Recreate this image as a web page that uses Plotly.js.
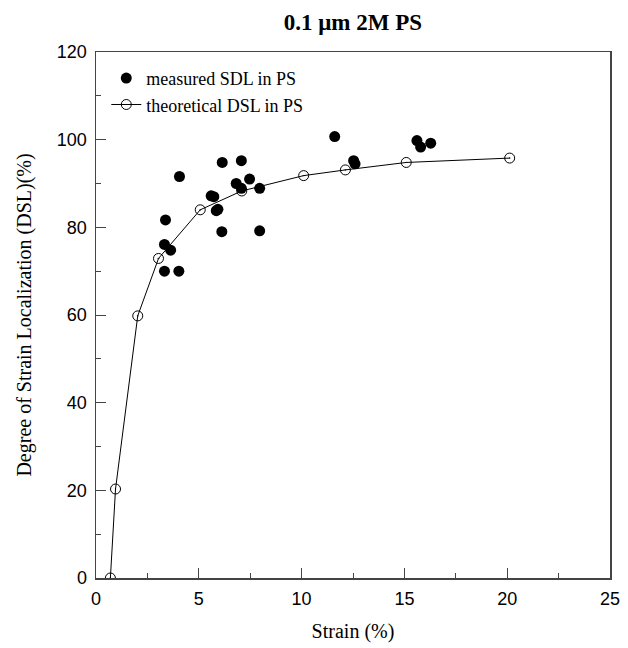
<!DOCTYPE html>
<html>
<head>
<meta charset="utf-8">
<script src="https://cdn.plot.ly/plotly-3.0.1.min.js"></script>
<style>html,body{margin:0;padding:0;background:#fff;}#chart{width:628px;height:648px;}</style>
</head>
<body>
<div id="chart"></div>
<script>
const measuredStrain = [3.33, 4.03, 3.33, 3.63, 3.38, 4.06, 5.6, 5.73, 5.85, 5.93, 6.12, 6.14, 7.07, 6.82, 7.07, 7.47, 7.96, 7.96, 11.61, 12.53, 12.6, 15.61, 15.79, 16.28];
const measuredSDL    = [70.0, 70.0, 76.1, 74.8, 81.7, 91.6, 87.2, 87.0, 83.8, 84.1, 79.0, 94.8, 95.2, 90.0, 88.9, 91.0, 88.9, 79.2, 100.7, 95.2, 94.5, 99.8, 98.3, 99.2];
const theoStrain = [0.7, 0.95, 2.03, 3.04, 5.07, 7.09, 10.1, 12.13, 15.09, 20.12];
const theoDSL    = [0, 20.3, 59.8, 72.9, 84.0, 88.3, 91.8, 93.1, 94.8, 95.8];
const xTicks = [0, 5, 10, 15, 20, 25];
const yTicks = [0, 20, 40, 60, 80, 100, 120];

const traces = [
  {x: measuredStrain, y: measuredSDL, mode: 'markers', type: 'scatter', name: 'measured SDL in PS',
   marker: {symbol: 'circle', size: 11, color: '#000'}},
  {x: theoStrain, y: theoDSL, mode: 'lines+markers', type: 'scatter', name: 'theoretical DSL in PS',
   line: {color: '#000', width: 1}, marker: {symbol: 'circle-open-dot', size: 10, color: '#000', line: {width: 1}}}
];
const axisCommon = {
  showgrid: false, zeroline: false, showline: true, mirror: true, linecolor: '#444', linewidth: 1.5,
  ticks: 'inside', ticklen: 10, tickwidth: 1, tickcolor: '#444', ticklabelstandoff: 4,
  tickfont: {family: 'Liberation Sans, Arial, sans-serif', size: 18, color: '#000'}
};
const layout = {
  width: 628, height: 648,
  margin: {l: 96, r: 18, t: 52, b: 70},
  paper_bgcolor: '#fff', plot_bgcolor: '#fff',
  showlegend: true,
  legend: {x: 0.02, y: 0.985, xanchor: 'left', yanchor: 'top', bgcolor: 'rgba(0,0,0,0)',
    font: {family: 'Liberation Serif, Times New Roman, serif', size: 18, color: '#000'}, tracegroupgap: 0},
  title: {text: '<b>0.1 μm 2M PS</b>', x: 0.562, xanchor: 'center', y: 0.966, yanchor: 'middle',
    font: {family: 'Liberation Serif, Times New Roman, serif', size: 23, color: '#000'}},
  xaxis: Object.assign({}, axisCommon, {range: [0, 25], tickvals: xTicks, ticktext: xTicks.map(String),
    minor: {dtick: 2.5, ticks: 'inside', ticklen: 5, tickcolor: '#444'},
    title: {text: 'Strain (%)', standoff: 16, font: {family: 'Liberation Serif, Times New Roman, serif', size: 20, color: '#000'}}}),
  yaxis: Object.assign({}, axisCommon, {range: [0, 120], tickvals: yTicks, ticktext: yTicks.map(String),
    minor: {dtick: 10, ticks: 'inside', ticklen: 5, tickcolor: '#444'},
    title: {text: 'Degree of Strain Localization (DSL)(%)', standoff: 20, font: {family: 'Liberation Serif, Times New Roman, serif', size: 20, color: '#000'}}})
};
Plotly.newPlot('chart', traces, layout, {displayModeBar: false, staticPlot: true});
</script>
</body>
</html>
